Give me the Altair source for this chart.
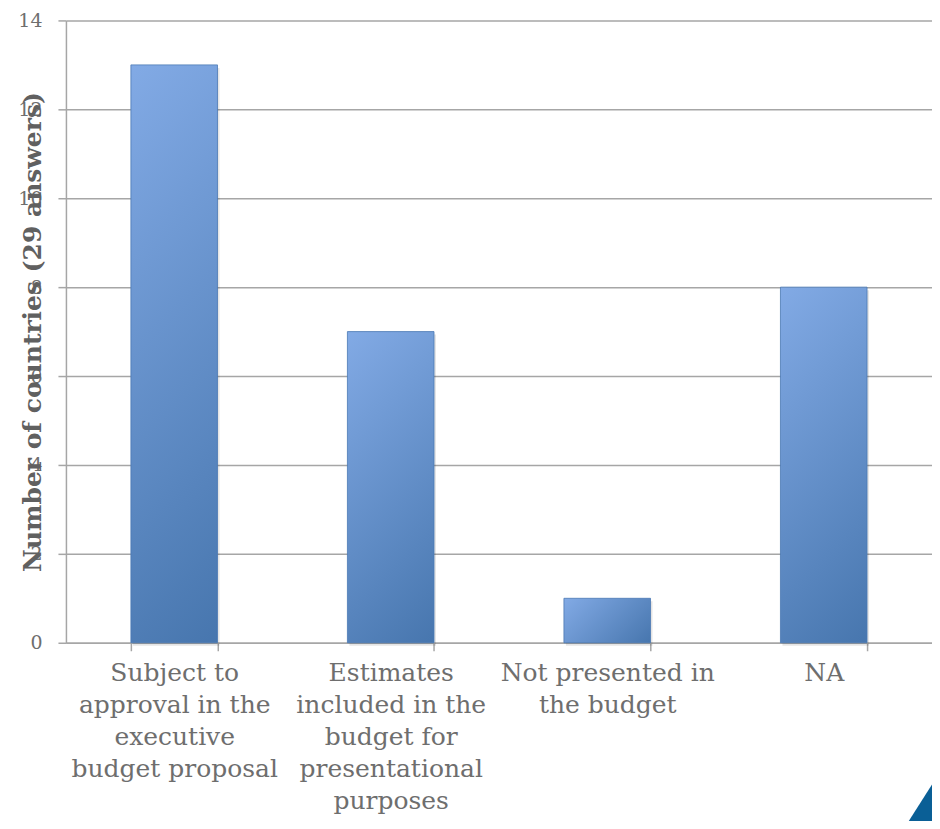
import altair as alt
import pandas as pd

categories = [
    "Subject to|approval in the|executive|budget proposal",
    "Estimates|included in the|budget for|presentational|purposes",
    "Not presented in|the budget",
    "NA",
]
values = [13, 7, 1, 8]
y_ticks = [0, 2, 4, 6, 8, 10, 12, 14]

df = pd.DataFrame({"cat": categories, "val": values})

FONT = "DejaVu Serif"
LABEL_GRAY = "#6e6e6e"
TITLE_GRAY = "#606060"
LINE_GRAY = "#a6a6a6"

PLOT_W, PLOT_H = 867, 623
Y_MAX = 14

x_enc = alt.X(
    "cat:N",
    sort=categories,
    scale=alt.Scale(paddingInner=0.6, paddingOuter=0.3),
    axis=alt.Axis(
        title=None,
        labelExpr="split(datum.label, '|')",
        labelAngle=0,
        labelFont=FONT,
        labelFontSize=25,
        labelColor=LABEL_GRAY,
        labelLineHeight=32,
        labelPadding=10,
        labelBaseline="top",
        labelLimit=400,
        tickBand="extent",
        tickSize=8,
        tickColor=LINE_GRAY,
        tickWidth=1.5,
        domainColor=LINE_GRAY,
        domainWidth=1.5,
        grid=False,
    ),
)

y_enc = alt.Y(
    "val:Q",
    scale=alt.Scale(domain=[0, Y_MAX], nice=False),
    axis=alt.Axis(
        values=y_ticks,
        title="Number of countries (29 answers)",
        titleFont=FONT,
        titleFontSize=25,
        titleFontWeight="bold",
        titleColor=TITLE_GRAY,
        titleAngle=-90,
        titleX=-33,
        titleY=PLOT_H / 2,
        titleAlign="center",
        titleBaseline="middle",
        labelFont=FONT,
        labelFontSize=19,
        labelColor=LABEL_GRAY,
        labelPadding=16,
        tickSize=8,
        tickColor=LINE_GRAY,
        tickWidth=1.5,
        domainColor=LINE_GRAY,
        domainWidth=1.5,
        gridColor=LINE_GRAY,
        gridWidth=1.5,
    ),
)

shadow = alt.Chart(df).mark_bar(
    color="#000000", opacity=0.10, xOffset=2, yOffset=3
).encode(x=x_enc, y=y_enc)

# One bar layer per category so the diagonal gradient keeps a 45-degree look
layers = [shadow]
for cat, v in zip(categories, values):
    w = 87.0
    h = PLOT_H * v / Y_MAX
    k = (w + h) / (w * w + h * h)
    layers.append(
        alt.Chart(df)
        .transform_filter(alt.datum.cat == cat)
        .mark_bar(
            stroke="#4a78b4",
            strokeWidth=0.8,
            color=alt.Gradient(
                gradient="linear",
                stops=[
                    alt.GradientStop(color="#82aae5", offset=0),
                    alt.GradientStop(color="#4776ae", offset=1),
                ],
                x1=0, y1=0, x2=w * k, y2=h * k,
            ),
        )
        .encode(x=x_enc, y=y_enc)
    )

triangle_df = pd.DataFrame({"k": [0]})
triangle = alt.Chart(triangle_df).mark_point(
    shape="M -0.549 0.571 L 0.429 -0.963 L 0.429 0.571 Z",
    filled=True,
    color="#0a5f96",
    opacity=1,
    size=19600,
    strokeWidth=0,
).encode(x=alt.value(864), y=alt.value(790))
layers.append(triangle)

chart = (
    alt.layer(*layers)
    .properties(
        width=PLOT_W,
        height=PLOT_H,
        autosize=alt.AutoSizeParams(type="none"),
        padding={"left": 58, "top": 12, "right": 0, "bottom": 178},
    )
    .configure_view(stroke=None)
)

chart.save("out.html", embed_options={"renderer": "svg", "actions": False})
